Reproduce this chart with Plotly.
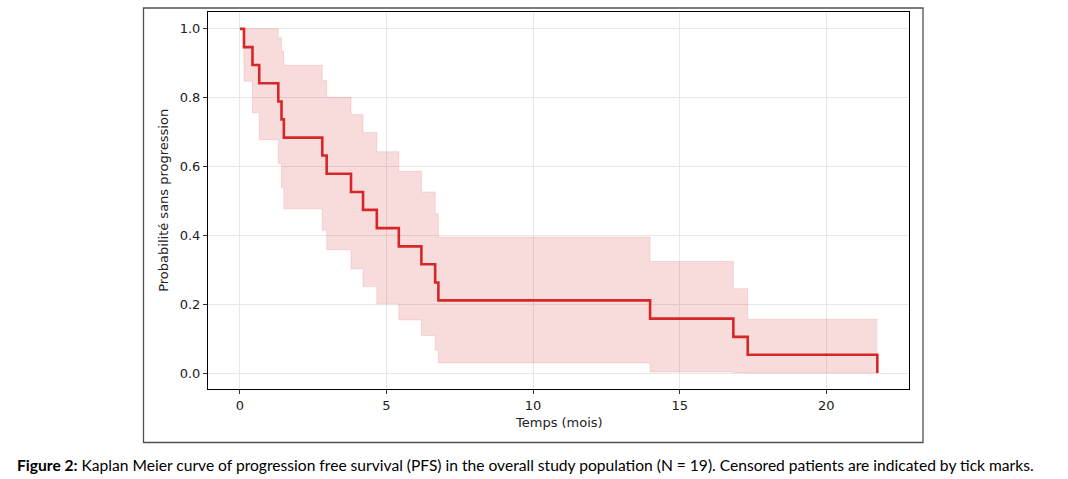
import plotly.graph_objects as go

# ---- data ----
time_months = [0, 0.14, 0.43, 0.66, 1.31, 1.42, 1.50, 2.81, 2.96, 3.79, 4.20,
               4.67, 5.42, 6.19, 6.66, 6.77, 13.99, 16.83, 17.32, 21.74]
survival = [1.0, 0.947, 0.895, 0.842, 0.789, 0.737, 0.684, 0.632, 0.579, 0.526,
            0.474, 0.421, 0.368, 0.316, 0.263, 0.211, 0.158, 0.105, 0.053, 0.0]
ci_upper = [1.0, 1.0, 1.0, 1.0, 0.974, 0.935, 0.894, 0.850, 0.801, 0.751,
            0.699, 0.643, 0.586, 0.526, 0.463, 0.395, 0.324, 0.245, 0.156, 0.156]
ci_lower = [1.0, 0.848, 0.756, 0.678, 0.608, 0.538, 0.477, 0.415, 0.358, 0.302,
            0.251, 0.201, 0.154, 0.109, 0.066, 0.029, 0.003, 0.001, 0.0, 0.0]
x_ticks = [0, 5, 10, 15, 20]
y_ticks = [0.0, 0.2, 0.4, 0.6, 0.8, 1.0]
x_title = "Temps (mois)"
y_title = "Probabilité sans progression"
caption = ("<b>Figure 2:</b> Kaplan Meier curve of progression free survival (PFS) "
           "in the overall study population (N = 19). Censored patients are indicated by tick marks.")

# ---- layout geometry (pixels) ----
W, H = 1068, 479
PL, PR, PT, PB = 208, 909, 12, 389
pw, ph = PR - PL, PB - PT

def px(x):
    return (x - PL) / pw

def py(y):
    return (PB - y) / ph

RED = "#d62728"
BAND = "rgba(214,39,40,0.16)"
BAND_EDGE = "rgba(214,39,40,0.13)"

fig = go.Figure()
fig.add_trace(go.Scatter(x=time_months, y=ci_lower, mode="lines", line_shape="hv",
                         line=dict(color=BAND_EDGE, width=1), hoverinfo="skip",
                         showlegend=False))
fig.add_trace(go.Scatter(x=time_months, y=ci_upper, mode="lines", line_shape="hv",
                         line=dict(color=BAND_EDGE, width=1), fill="tonexty",
                         fillcolor=BAND, hoverinfo="skip", showlegend=False))
fig.add_trace(go.Scatter(x=time_months, y=survival, mode="lines", line_shape="hv",
                         line=dict(color=RED, width=2.6), showlegend=False))

axis_common = dict(showline=True, linecolor="black", linewidth=1, mirror=True,
                   ticks="outside", ticklen=4, tickwidth=1, tickcolor="#333",
                   showgrid=True, gridcolor="#e8e8e8", gridwidth=1, zeroline=False,
                   tickfont=dict(family="DejaVu Sans", size=13, color="#222"))

fig.update_xaxes(range=[-1.087, 22.82], tickvals=x_ticks, **axis_common)
fig.update_yaxes(range=[-0.0465, 1.049], tickvals=y_ticks, tickformat=".1f", **axis_common)

fig.update_layout(
    width=W, height=H, autosize=False,
    margin=dict(l=PL, r=W - PR, t=PT, b=H - PB),
    paper_bgcolor="white", plot_bgcolor="white",
    shapes=[dict(type="rect", xref="paper", yref="paper",
                 x0=px(143.5), x1=px(923), y0=py(442.5), y1=py(8),
                 line=dict(color="#505050", width=1.3), layer="below")],
    annotations=[
        dict(text=x_title, xref="paper", yref="paper", x=0.5, y=py(422.7),
             xanchor="center", yanchor="middle", showarrow=False,
             font=dict(family="DejaVu Sans", size=13, color="#222")),
        dict(text=y_title, xref="paper", yref="paper", x=px(163.3), y=0.5,
             xanchor="center", yanchor="middle", textangle=-90, showarrow=False,
             font=dict(family="DejaVu Sans", size=13, color="#222")),
        dict(text=caption, xref="paper", yref="paper", x=px(15), y=py(465),
             xanchor="left", yanchor="middle", showarrow=False,
             font=dict(family="Lato", size=15.6, color="black")),
    ],
)

fig.write_html("out.html")
